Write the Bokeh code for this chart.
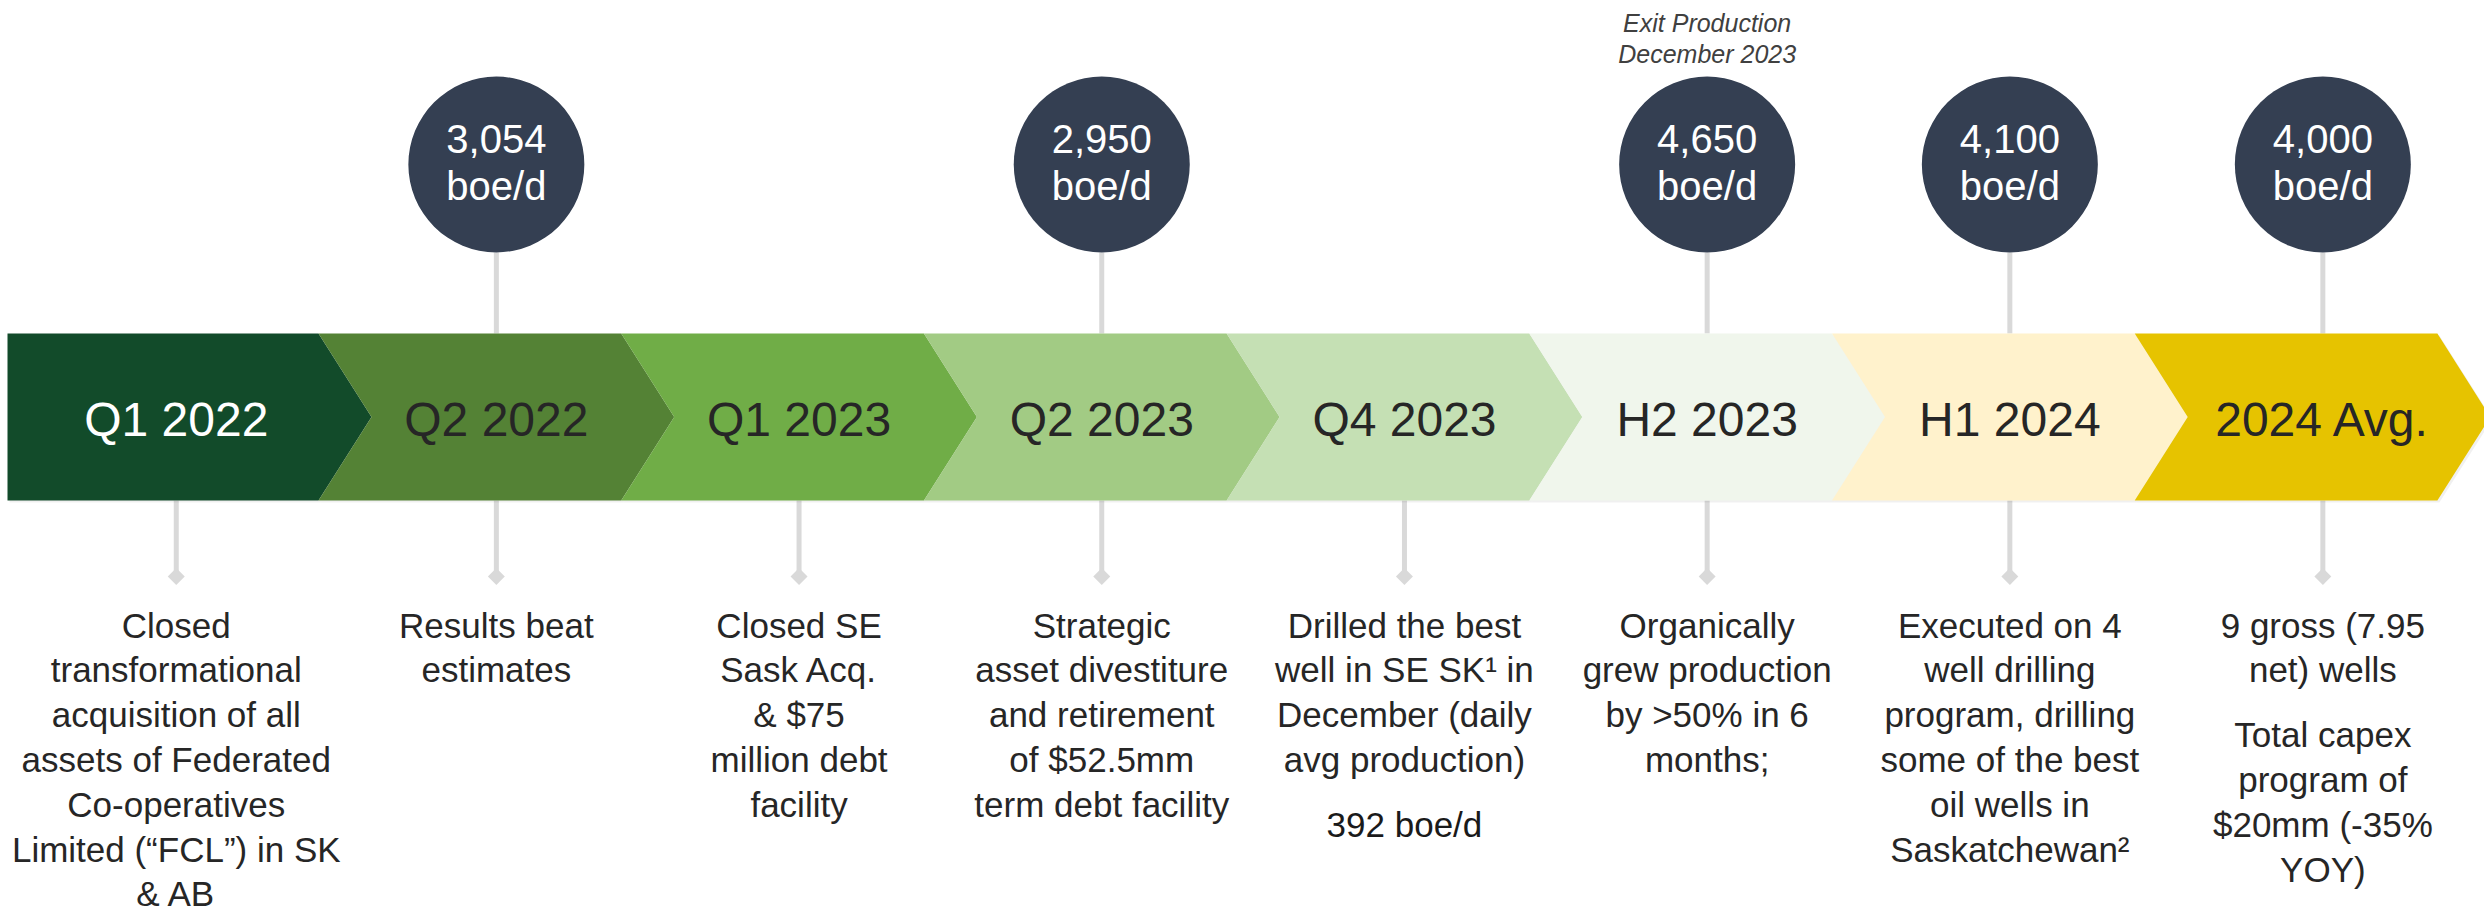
from bokeh.plotting import figure
from bokeh.models import Range1d
from bokeh.embed import file_html
from bokeh.resources import INLINE
from bokeh.core.properties import value

# ---------------- data ----------------
periods = ["Q1 2022", "Q2 2022", "Q1 2023", "Q2 2023", "Q4 2023", "H2 2023", "H1 2024", "2024 Avg."]
production = [None, 3054, None, 2950, None, 4650, 4100, 4000]
production_unit = "boe/d"
production_notes = ["", "", "", "", "", "Exit Production\nDecember 2023", "", ""]
descriptions = [
    "Closed\ntransformational\nacquisition of all\nassets of Federated\nCo-operatives\nLimited (\u201cFCL\u201d) in SK\n& AB",
    "Results beat\nestimates",
    "Closed SE\nSask Acq.\n& $75\nmillion debt\nfacility",
    "Strategic\nasset divestiture\nand retirement\nof $52.5mm\nterm debt facility",
    "Drilled the best\nwell in SE SK\u00b9 in\nDecember (daily\navg production)\n\n392 boe/d",
    "Organically\ngrew production\nby >50% in 6\nmonths;",
    "Executed on 4\nwell drilling\nprogram, drilling\nsome of the best\noil wells in\nSaskatchewan\u00b2",
    "9 gross (7.95\nnet) wells\n\nTotal capex\nprogram of\n$20mm (-35%\nYOY)",
]

# ---------------- styles ----------------
seg_colors = ["#124B2A", "#548235", "#70AD47", "#A2CB84", "#C5E0B4", "#F0F6EC", "#FFF2CC", "#E6C300"]
label_colors = ["#FFFFFF"] + ["#262626"] * 7
FONT = value("Liberation Sans")
CIRCLE = "#343F52"
GREY = "#D9D9D9"

W, H = 2484, 915
p = figure(width=W, height=H, x_range=Range1d(0, W), y_range=Range1d(H, 0),
           output_backend="svg", toolbar_location=None, min_border=0,
           x_axis_type=None, y_axis_type=None)
p.grid.visible = False
p.outline_line_color = None
p.background_fill_color = "white"

def mid(baseline, size):
    # visual centre of capitals for a given baseline and font size
    return baseline - 0.355 * size

# layout
band_top, band_bot = 333.0, 500.0
band_mid = (band_top + band_bot) / 2
left0 = 7.0
notch0 = 318.0
pitch = 302.7
depth = 53.0
n = len(periods)

def notch(k):
    return notch0 + pitch * k

xs, ys, centers = [], [], []
for i in range(n):
    nr = notch(i)
    if i == 0:
        xs.append([left0, nr, nr + depth, nr, left0])
        ys.append([band_top, band_top, band_mid, band_bot, band_bot])
        lmid = left0
    else:
        nl = notch(i - 1)
        xs.append([nl, nr, nr + depth, nr, nl, nl + depth])
        ys.append([band_top, band_top, band_mid, band_bot, band_bot, band_mid])
        lmid = nl + depth / 2
    rmid = nr + depth / 2 if i < n - 1 else W
    centers.append((lmid + rmid) / 2)

# connector lines
cx_idx = [i for i in range(n) if production[i] is not None]
circle_y, radius = 164.0, 88.0
diamond_y = 576.0
seg_x0 = [centers[i] for i in cx_idx] + centers
seg_y0 = [circle_y + radius] * len(cx_idx) + [band_bot] * n
seg_y1 = [band_top] * len(cx_idx) + [diamond_y] * n
p.segment(x0=seg_x0, y0=seg_y0, x1=seg_x0, y1=seg_y1, line_color=GREY, line_width=5)
p.scatter(x=centers, y=[diamond_y] * n, marker="square", angle=0.785398, size=12,
          fill_color=GREY, line_color=None)

# shadow + chevrons
p.patches(xs=[[x + 2 for x in xx] for xx in xs], ys=[[y + 2 for y in yy] for yy in ys],
          fill_color="#000000", fill_alpha=0.06, line_color=None)
p.patches(xs=xs, ys=ys, fill_color=seg_colors, line_color=None)

p.text(x=centers, y=[mid(436, 48)] * n, text=periods, text_font=FONT, text_font_size="48px",
       text_align="center", text_baseline="middle", text_color=label_colors)

# production circles
p.circle(x=[centers[i] for i in cx_idx], y=[circle_y] * len(cx_idx), radius=radius,
         fill_color=CIRCLE, line_color=None)
tx, ty, tt = [], [], []
for i in cx_idx:
    tx += [centers[i], centers[i]]
    ty += [mid(153, 40), mid(200, 40)]
    tt += [f"{production[i]:,}", production_unit]
p.text(x=tx, y=ty, text=tt, text_font=FONT, text_font_size="40px", text_align="center",
       text_baseline="middle", text_color="white")

# notes above circles
nx, ny, nt = [], [], []
for i, note in enumerate(production_notes):
    for k, line in enumerate(note.split("\n") if note else []):
        nx.append(centers[i]); ny.append(mid(31 + 31 * k, 25)); nt.append(line)
p.text(x=nx, y=ny, text=nt, text_font=FONT, text_font_size="25px", text_font_style="italic",
       text_align="center", text_baseline="middle", text_color="#404040")

# descriptions
dx, dy, dt, dc = [], [], [], []
lh, gap = 44.8, 20.0
for i, desc in enumerate(descriptions):
    y = 637.0
    for pi_, para in enumerate(desc.split("\n\n")):
        if pi_ > 0:
            y += gap
        for line in para.split("\n"):
            dx.append(centers[i]); dy.append(mid(y, 35)); dt.append(line)
            dc.append("#1A1A1A" if "boe/d" in line else "#262626")
            y += lh
p.text(x=dx, y=dy, text=dt, text_font=FONT, text_font_size="35px", text_align="center",
       text_baseline="middle", text_color=dc)

open("out.html", "w").write(file_html(p, INLINE))
